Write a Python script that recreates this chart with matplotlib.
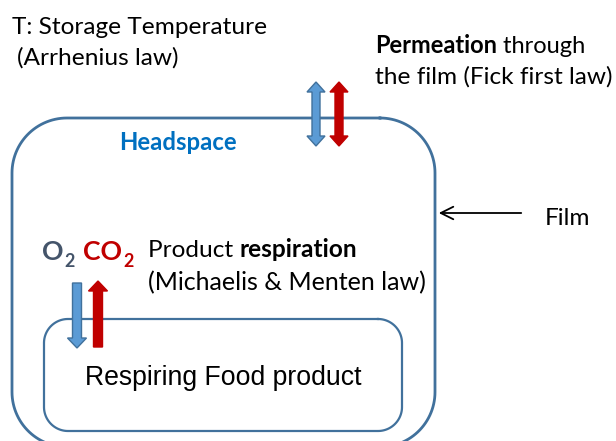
import matplotlib
matplotlib.use("Agg")
import numpy as np
import matplotlib.pyplot as plt
from matplotlib.patches import Polygon

W, H = 616, 441
fig = plt.figure(figsize=(W / 100, H / 100), dpi=100)
ax = fig.add_axes([0, 0, 1, 1])
ax.set_xlim(0, W)
ax.set_ylim(H, 0)
ax.set_autoscale_on(False)
ax.axis("off")

BOX = "#41719C"
BLUE_FILL = "#5B9BD5"
RED = "#C00000"
HEAD_BLUE = "#0070C0"
SLATE = "#44546A"
FONT = ["Lato", "DejaVu Sans"]
ARIAL = ["Liberation Sans", "DejaVu Sans"]
FS = 17.6


def round_rect(x0, y0, x1, y1, r, lw):
    """Rounded rectangle outline in data (pixel) coords, y pointing down."""
    pts = []
    corners = [(x1 - r, y0 + r, -90, 0),   # top-right
               (x1 - r, y1 - r, 0, 90),    # bottom-right
               (x0 + r, y1 - r, 90, 180),  # bottom-left
               (x0 + r, y0 + r, 180, 270)]  # top-left
    for cx, cy, a0, a1 in corners:
        a = np.radians(np.linspace(a0, a1, 30))
        pts.extend(zip(cx + r * np.cos(a), cy + r * np.sin(a)))
    pts.append(pts[0])
    xs, ys = zip(*pts)
    ax.plot(xs, ys, color=BOX, lw=lw, solid_joinstyle="round", clip_on=True)


round_rect(12, 118, 435, 447, 55, 2.0)
round_rect(44, 319, 402, 431, 24, 1.6)


def v_arrow(x, y0, y1, fc, ec, head_top=True, head_bot=True, sw=8, hw=18, hl=10):
    pts = []
    if head_top:
        pts += [(x, y0), (x + hw / 2, y0 + hl), (x + sw / 2, y0 + hl)]
    else:
        pts += [(x + sw / 2, y0)]
    if head_bot:
        pts += [(x + sw / 2, y1 - hl), (x + hw / 2, y1 - hl), (x, y1),
                (x - hw / 2, y1 - hl), (x - sw / 2, y1 - hl)]
    else:
        pts += [(x + sw / 2, y1), (x - sw / 2, y1)]
    if head_top:
        pts += [(x - sw / 2, y0 + hl), (x - hw / 2, y0 + hl)]
    else:
        pts += [(x - sw / 2, y0)]
    ax.add_patch(Polygon(pts, closed=True, fc=fc, ec=ec, lw=1.0, zorder=5))


# permeation arrows
v_arrow(316, 82, 146, BLUE_FILL, BOX)
v_arrow(339, 82, 146, RED, RED)
# respiration arrows
v_arrow(77, 283, 348, BLUE_FILL, BOX, head_top=False, sw=9, hw=19)
v_arrow(98, 281, 347, RED, RED, head_bot=False, sw=9, hw=19)

# film arrow
ax.annotate("", xy=(436, 213), xytext=(524, 213),
            arrowprops=dict(arrowstyle="->,head_length=0.9,head_width=0.45", color="black", lw=1.3))

fig.canvas.draw()
renderer = fig.canvas.get_renderer()


def seq(x, y, parts, size=FS, family=FONT):
    """Draw text fragments one after another; parts = list of (text, weight, color)."""
    for txt, wt, col in parts:
        t = ax.text(x, y, txt, fontsize=size, fontweight=wt, color=col,
                    family=family, va="baseline", ha="left")
        bb = t.get_window_extent(renderer=renderer)
        x += bb.width  # 1 px per data unit
    return x


seq(12, 34, [("T: Storage Temperature", "normal", "black")])
seq(17, 65, [("(Arrhenius law)", "normal", "black")])
seq(375, 53, [("Permeation", "bold", "black"), (" through", "normal", "black")], size=17.0)
seq(375, 84, [("the film (Fick first law)", "normal", "black")])
ax.text(178, 143, "Headspace", fontsize=17.2, fontweight="bold", color=HEAD_BLUE,
        family=FONT, ha="center", va="center")
seq(545, 225, [("Film", "normal", "black")])

# O2 CO2
x = seq(42, 260, [("O", "bold", SLATE)], size=19.2)
seq(x + 1, 267, [("2", "bold", SLATE)], size=13)
x = seq(83, 260, [("CO", "bold", RED)], size=19.2)
seq(x + 1, 267, [("2", "bold", RED)], size=13)

seq(148, 257, [("Product ", "normal", "black"), ("respiration", "bold", "black")])
seq(148, 290, [("(Michaelis & Menten law)", "normal", "black")], size=18.0)

ax.text(223, 385, "Respiring Food product", fontsize=19.2, color="black",
        family=ARIAL, ha="center", va="baseline")

fig.savefig("out.png", dpi=100)
